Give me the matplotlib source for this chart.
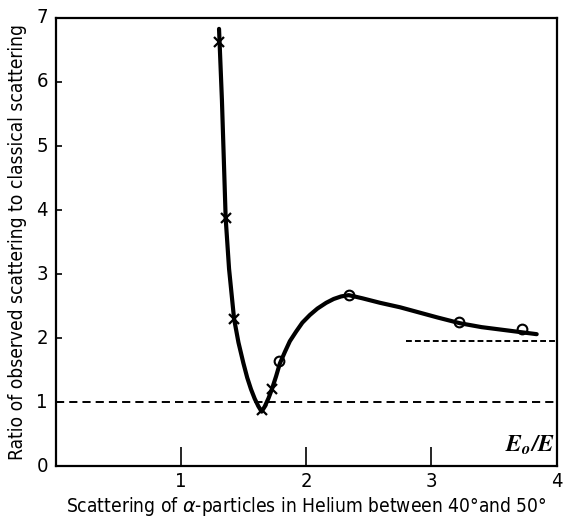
import matplotlib
matplotlib.use("Agg")
import matplotlib.pyplot as plt

# Curve (E0/E, ratio)
curve_x = [1.305, 1.316, 1.328, 1.343, 1.358, 1.385, 1.425, 1.46, 1.499,
           1.53, 1.56, 1.59, 1.62, 1.645, 1.67, 1.70, 1.725, 1.76, 1.79, 1.83, 1.87,
           1.92, 1.97, 2.03, 2.09, 2.16, 2.22, 2.28, 2.34, 2.45, 2.59, 2.75, 2.90,
           3.05, 3.23, 3.40, 3.60, 3.84]
curve_y = [6.83, 6.30, 5.72, 4.80, 3.87, 3.08, 2.30, 1.93, 1.61,
           1.38, 1.20, 1.05, 0.93, 0.85, 0.93, 1.06, 1.19, 1.40, 1.60, 1.78, 1.95,
           2.10, 2.24, 2.36, 2.46, 2.55, 2.61, 2.65, 2.67, 2.62, 2.55, 2.48, 2.40,
           2.32, 2.23, 2.17, 2.12, 2.06]

# Measured points
cross_x = [1.305, 1.358, 1.425, 1.645, 1.73]
cross_y = [6.62, 3.87, 2.30, 0.88, 1.20]
circle_x = [1.78, 2.34, 3.22, 3.72]
circle_y = [1.64, 2.67, 2.25, 2.14]

# Reference levels (dashed)
classical_level = 1.0
upper_level = 1.96
upper_start = 2.8

x_ticks = [1, 2, 3]
y_ticks = [1, 2, 3, 4, 5, 6]

FONT = dict(family='DejaVu Sans', stretch='condensed')

fig = plt.figure(figsize=(5.67, 5.2), dpi=100)
ax = fig.add_axes([0.0979, 0.1038, 0.884, 0.8616])

ax.plot(curve_x, curve_y, color='black', lw=3, solid_capstyle='round', solid_joinstyle='round')
ax.plot(cross_x, cross_y, linestyle='none', marker='x', ms=6.5, mew=1.6, color='black')
ax.plot(circle_x, circle_y, linestyle='none', marker='o', ms=7, mew=1.5,
        fillstyle='none', markeredgecolor='black')

ax.plot([0, 4.05], [classical_level, classical_level], color='black', lw=1.4,
        dashes=(4.2, 2.6), clip_on=True)
ax.plot([upper_start, 4.05], [upper_level, upper_level], color='black', lw=1.4,
        dashes=(3.0, 1.6), clip_on=True)

ax.set_xlim(0, 4)
ax.set_ylim(0, 7)

for s in ax.spines.values():
    s.set_linewidth(1.6)

ax.set_xticks(x_ticks)
ax.set_yticks(y_ticks)
ax.tick_params(axis='x', direction='in', length=14, width=1.2, labelbottom=False)
ax.tick_params(axis='y', direction='in', length=4, width=1.2, labelleft=False)

# tick labels as text so the corner labels 0, 7 and 4 can be placed
for v in x_ticks + [4]:
    ax.text(v, -0.1, str(v), ha='center', va='top', fontsize=14.5, **FONT)
for v in [0] + y_ticks + [7]:
    ax.text(-0.06, v, str(v), ha='right', va='center', fontsize=14.5, **FONT)

ax.text(3.79, 0.33, r'$\mathbfit{E_o/E}$', ha='center', va='center', fontsize=17,
        math_fontfamily='stix')

ax.text(2.0, -0.46, 'Scattering of $\\alpha$-particles in Helium between 40°and 50°',
        ha='center', va='top', fontsize=13.8, **FONT)
ax.text(-0.3, 3.5, 'Ratio of observed scattering to classical scattering', rotation=90,
        ha='center', va='center', fontsize=13.8, **FONT)

fig.savefig('out.png', dpi=100)
